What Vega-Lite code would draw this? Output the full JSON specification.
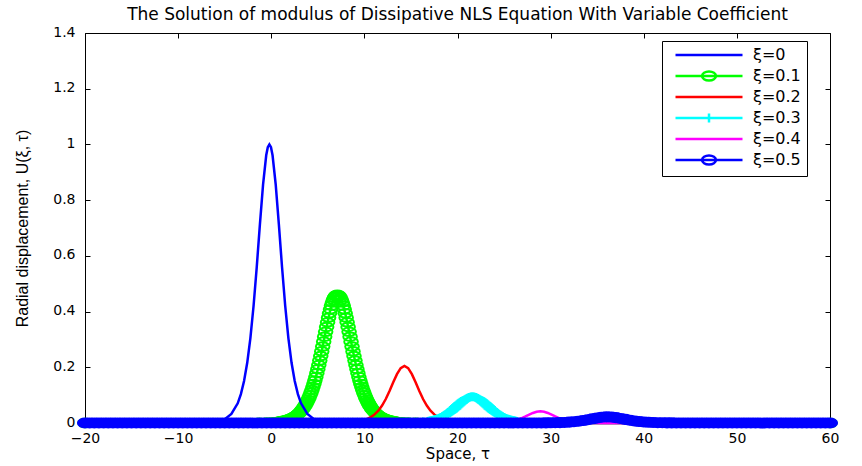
{
"$schema": "https://vega.github.io/schema/vega-lite/v6.json",
"width": 745, "height": 390,
"autosize": {"type": "none"},
"padding": {"left": 85, "top": 33, "right": 32, "bottom": 43},
"background": "white",
"title": {"text": "The Solution of modulus of Dissipative NLS Equation With Variable Coefficient", "font": "DejaVu Sans", "fontSize": 17, "fontWeight": "normal", "color": "black", "anchor": "middle", "offset": 1},
"config": {"view": {"stroke": "black", "strokeWidth": 1}, "axis": {"grid": false, "domain": false, "tickColor": "black", "labelColor": "black", "titleColor": "black", "labelFont": "DejaVu Sans", "labelFontSize": 14, "labelFlush": false, "labelOverlap": false}},
"data": {"values": [
{"s":"ξ=0","x":-20,"y":0},{"s":"ξ=0","x":-7.85,"y":0.0005},{"s":"ξ=0","x":-7,"y":0.0013},{"s":"ξ=0","x":-5.81,"y":0.0054},{"s":"ξ=0","x":-4.96,"y":0.0147},{"s":"ξ=0","x":-4.28,"y":0.0324},{"s":"ξ=0","x":-3.6,"y":0.0707},{"s":"ξ=0","x":-3.26,"y":0.1036},{"s":"ξ=0","x":-2.92,"y":0.1505},{"s":"ξ=0","x":-2.58,"y":0.216},{"s":"ξ=0","x":-2.24,"y":0.305},{"s":"ξ=0","x":-1.9,"y":0.42},{"s":"ξ=0","x":-1.56,"y":0.559},{"s":"ξ=0","x":-1.22,"y":0.712},{"s":"ξ=0","x":-0.88,"y":0.856},{"s":"ξ=0","x":-0.54,"y":0.961},{"s":"ξ=0","x":-0.37,"y":0.99},{"s":"ξ=0","x":-0.2,"y":1.0},{"s":"ξ=0","x":-0.03,"y":0.99},{"s":"ξ=0","x":0.14,"y":0.961},{"s":"ξ=0","x":0.48,"y":0.856},{"s":"ξ=0","x":0.82,"y":0.712},{"s":"ξ=0","x":1.16,"y":0.559},{"s":"ξ=0","x":1.5,"y":0.42},{"s":"ξ=0","x":1.84,"y":0.305},{"s":"ξ=0","x":2.18,"y":0.216},{"s":"ξ=0","x":2.52,"y":0.1505},{"s":"ξ=0","x":2.86,"y":0.1036},{"s":"ξ=0","x":3.2,"y":0.0707},{"s":"ξ=0","x":3.88,"y":0.0324},{"s":"ξ=0","x":4.56,"y":0.0147},{"s":"ξ=0","x":5.41,"y":0.0054},{"s":"ξ=0","x":6.6,"y":0.0013},{"s":"ξ=0","x":7.45,"y":0.0005},{"s":"ξ=0","x":60,"y":0},

{"s":"ξ=0.1","x":-20,"y":0},{"s":"ξ=0.1","x":-1.3,"y":0.0006},{"s":"ξ=0.1","x":-0.46,"y":0.0014},{"s":"ξ=0.1","x":0.17,"y":0.0025},{"s":"ξ=0.1","x":0.8,"y":0.0045},{"s":"ξ=0.1","x":1.01,"y":0.0055},{"s":"ξ=0.1","x":1.22,"y":0.0068},{"s":"ξ=0.1","x":1.43,"y":0.0082},{"s":"ξ=0.1","x":1.64,"y":0.01},{"s":"ξ=0.1","x":1.85,"y":0.0122},{"s":"ξ=0.1","x":2.06,"y":0.0149},{"s":"ξ=0.1","x":2.27,"y":0.0181},{"s":"ξ=0.1","x":2.48,"y":0.022},{"s":"ξ=0.1","x":2.69,"y":0.0268},{"s":"ξ=0.1","x":2.9,"y":0.0325},{"s":"ξ=0.1","x":3.11,"y":0.0394},{"s":"ξ=0.1","x":3.32,"y":0.0477},{"s":"ξ=0.1","x":3.53,"y":0.0575},{"s":"ξ=0.1","x":3.74,"y":0.0692},{"s":"ξ=0.1","x":3.95,"y":0.0833},{"s":"ξ=0.1","x":4.16,"y":0.0994},{"s":"ξ=0.1","x":4.37,"y":0.1182},{"s":"ξ=0.1","x":4.58,"y":0.1403},{"s":"ξ=0.1","x":4.79,"y":0.1651},{"s":"ξ=0.1","x":5.0,"y":0.1932},{"s":"ξ=0.1","x":5.21,"y":0.224},{"s":"ξ=0.1","x":5.42,"y":0.2571},{"s":"ξ=0.1","x":5.63,"y":0.2921},{"s":"ξ=0.1","x":5.84,"y":0.3275},{"s":"ξ=0.1","x":6.05,"y":0.3616},{"s":"ξ=0.1","x":6.26,"y":0.3938},{"s":"ξ=0.1","x":6.47,"y":0.4209},{"s":"ξ=0.1","x":6.68,"y":0.4421},{"s":"ξ=0.1","x":6.89,"y":0.4554},{"s":"ξ=0.1","x":7.1,"y":0.46},{"s":"ξ=0.1","x":7.31,"y":0.4554},{"s":"ξ=0.1","x":7.52,"y":0.4421},{"s":"ξ=0.1","x":7.73,"y":0.4209},{"s":"ξ=0.1","x":7.94,"y":0.3938},{"s":"ξ=0.1","x":8.15,"y":0.3616},{"s":"ξ=0.1","x":8.36,"y":0.3275},{"s":"ξ=0.1","x":8.57,"y":0.2921},{"s":"ξ=0.1","x":8.78,"y":0.2571},{"s":"ξ=0.1","x":8.99,"y":0.224},{"s":"ξ=0.1","x":9.2,"y":0.1932},{"s":"ξ=0.1","x":9.41,"y":0.1651},{"s":"ξ=0.1","x":9.62,"y":0.1403},{"s":"ξ=0.1","x":9.83,"y":0.1182},{"s":"ξ=0.1","x":10.04,"y":0.0994},{"s":"ξ=0.1","x":10.25,"y":0.0833},{"s":"ξ=0.1","x":10.46,"y":0.0692},{"s":"ξ=0.1","x":10.67,"y":0.0575},{"s":"ξ=0.1","x":10.88,"y":0.0477},{"s":"ξ=0.1","x":11.09,"y":0.0394},{"s":"ξ=0.1","x":11.3,"y":0.0325},{"s":"ξ=0.1","x":11.51,"y":0.0268},{"s":"ξ=0.1","x":11.72,"y":0.022},{"s":"ξ=0.1","x":11.93,"y":0.0181},{"s":"ξ=0.1","x":12.14,"y":0.0149},{"s":"ξ=0.1","x":12.35,"y":0.0122},{"s":"ξ=0.1","x":12.56,"y":0.01},{"s":"ξ=0.1","x":12.77,"y":0.0082},{"s":"ξ=0.1","x":12.98,"y":0.0068},{"s":"ξ=0.1","x":13.19,"y":0.0055},{"s":"ξ=0.1","x":13.4,"y":0.0045},{"s":"ξ=0.1","x":14.03,"y":0.0025},{"s":"ξ=0.1","x":14.66,"y":0.0014},{"s":"ξ=0.1","x":15.5,"y":0.0006},{"s":"ξ=0.1","x":60,"y":0},
{"s":"ξ=0.1","x":0.905,"y":0.0052},{"s":"ξ=0.1","x":1.115,"y":0.0063},{"s":"ξ=0.1","x":1.325,"y":0.0076},{"s":"ξ=0.1","x":1.535,"y":0.0092},{"s":"ξ=0.1","x":1.745,"y":0.0112},{"s":"ξ=0.1","x":1.955,"y":0.0136},{"s":"ξ=0.1","x":2.165,"y":0.0166},{"s":"ξ=0.1","x":2.375,"y":0.0201},{"s":"ξ=0.1","x":2.585,"y":0.0244},{"s":"ξ=0.1","x":2.795,"y":0.0296},{"s":"ξ=0.1","x":3.005,"y":0.0358},{"s":"ξ=0.1","x":3.215,"y":0.0433},{"s":"ξ=0.1","x":3.425,"y":0.0523},{"s":"ξ=0.1","x":3.635,"y":0.0631},{"s":"ξ=0.1","x":3.845,"y":0.0759},{"s":"ξ=0.1","x":4.055,"y":0.0909},{"s":"ξ=0.1","x":4.265,"y":0.1086},{"s":"ξ=0.1","x":4.475,"y":0.129},{"s":"ξ=0.1","x":4.685,"y":0.1524},{"s":"ξ=0.1","x":4.895,"y":0.1788},{"s":"ξ=0.1","x":5.105,"y":0.2082},{"s":"ξ=0.1","x":5.315,"y":0.2403},{"s":"ξ=0.1","x":5.525,"y":0.2744},{"s":"ξ=0.1","x":5.735,"y":0.3097},{"s":"ξ=0.1","x":5.945,"y":0.3448},{"s":"ξ=0.1","x":6.155,"y":0.3781},{"s":"ξ=0.1","x":6.365,"y":0.408},{"s":"ξ=0.1","x":6.575,"y":0.4324},{"s":"ξ=0.1","x":6.785,"y":0.4498},{"s":"ξ=0.1","x":6.995,"y":0.4589},
{"s":"ξ=0.1","x":7.205,"y":0.4589},{"s":"ξ=0.1","x":7.415,"y":0.4498},{"s":"ξ=0.1","x":7.625,"y":0.4324},{"s":"ξ=0.1","x":7.835,"y":0.408},{"s":"ξ=0.1","x":8.045,"y":0.3781},{"s":"ξ=0.1","x":8.255,"y":0.3448},{"s":"ξ=0.1","x":8.465,"y":0.3097},{"s":"ξ=0.1","x":8.675,"y":0.2744},{"s":"ξ=0.1","x":8.885,"y":0.2403},{"s":"ξ=0.1","x":9.095,"y":0.2082},{"s":"ξ=0.1","x":9.305,"y":0.1788},{"s":"ξ=0.1","x":9.515,"y":0.1524},{"s":"ξ=0.1","x":9.725,"y":0.129},{"s":"ξ=0.1","x":9.935,"y":0.1086},{"s":"ξ=0.1","x":10.145,"y":0.0909},{"s":"ξ=0.1","x":10.355,"y":0.0759},{"s":"ξ=0.1","x":10.565,"y":0.0631},{"s":"ξ=0.1","x":10.775,"y":0.0523},{"s":"ξ=0.1","x":10.985,"y":0.0433},{"s":"ξ=0.1","x":11.195,"y":0.0358},{"s":"ξ=0.1","x":11.405,"y":0.0296},{"s":"ξ=0.1","x":11.615,"y":0.0244},{"s":"ξ=0.1","x":11.825,"y":0.0201},{"s":"ξ=0.1","x":12.035,"y":0.0166},{"s":"ξ=0.1","x":12.245,"y":0.0136},{"s":"ξ=0.1","x":12.455,"y":0.0112},{"s":"ξ=0.1","x":12.665,"y":0.0092},{"s":"ξ=0.1","x":12.875,"y":0.0076},{"s":"ξ=0.1","x":13.085,"y":0.0063},{"s":"ξ=0.1","x":13.295,"y":0.0052},

{"s":"ξ=0.2","x":-20,"y":0},{"s":"ξ=0.2","x":6.3,"y":0.0003},{"s":"ξ=0.2","x":7.7,"y":0.0011},{"s":"ξ=0.2","x":8.7,"y":0.003},{"s":"ξ=0.2","x":9.5,"y":0.0066},{"s":"ξ=0.2","x":10.3,"y":0.0145},{"s":"ξ=0.2","x":10.7,"y":0.0212},{"s":"ξ=0.2","x":11.1,"y":0.0309},{"s":"ξ=0.2","x":11.5,"y":0.0443},{"s":"ξ=0.2","x":11.9,"y":0.0625},{"s":"ξ=0.2","x":12.3,"y":0.0861},{"s":"ξ=0.2","x":12.7,"y":0.1146},{"s":"ξ=0.2","x":13.1,"y":0.146},{"s":"ξ=0.2","x":13.5,"y":0.1755},{"s":"ξ=0.2","x":13.9,"y":0.197},{"s":"ξ=0.2","x":14.3,"y":0.205},{"s":"ξ=0.2","x":14.7,"y":0.197},{"s":"ξ=0.2","x":15.1,"y":0.1755},{"s":"ξ=0.2","x":15.5,"y":0.146},{"s":"ξ=0.2","x":15.9,"y":0.1146},{"s":"ξ=0.2","x":16.3,"y":0.0861},{"s":"ξ=0.2","x":16.7,"y":0.0625},{"s":"ξ=0.2","x":17.1,"y":0.0443},{"s":"ξ=0.2","x":17.5,"y":0.0309},{"s":"ξ=0.2","x":17.9,"y":0.0212},{"s":"ξ=0.2","x":18.3,"y":0.0145},{"s":"ξ=0.2","x":19.1,"y":0.0066},{"s":"ξ=0.2","x":19.9,"y":0.003},{"s":"ξ=0.2","x":20.9,"y":0.0011},{"s":"ξ=0.2","x":22.3,"y":0.0003},{"s":"ξ=0.2","x":60,"y":0},

{"s":"ξ=0.3","x":-20,"y":0},{"s":"ξ=0.3","x":14.4,"y":0.0009},{"s":"ξ=0.3","x":14.88,"y":0.0014},{"s":"ξ=0.3","x":15.36,"y":0.002},{"s":"ξ=0.3","x":15.84,"y":0.003},{"s":"ξ=0.3","x":16.32,"y":0.0045},{"s":"ξ=0.3","x":16.8,"y":0.0066},{"s":"ξ=0.3","x":17.04,"y":0.008},{"s":"ξ=0.3","x":17.28,"y":0.0097},{"s":"ξ=0.3","x":17.52,"y":0.0118},{"s":"ξ=0.3","x":17.76,"y":0.0141},{"s":"ξ=0.3","x":18.0,"y":0.017},{"s":"ξ=0.3","x":18.24,"y":0.0203},{"s":"ξ=0.3","x":18.48,"y":0.0242},{"s":"ξ=0.3","x":18.72,"y":0.0287},{"s":"ξ=0.3","x":18.96,"y":0.0337},{"s":"ξ=0.3","x":19.2,"y":0.0395},{"s":"ξ=0.3","x":19.44,"y":0.0458},{"s":"ξ=0.3","x":19.68,"y":0.0525},{"s":"ξ=0.3","x":19.92,"y":0.0597},{"s":"ξ=0.3","x":20.16,"y":0.0669},{"s":"ξ=0.3","x":20.4,"y":0.0739},{"s":"ξ=0.3","x":20.64,"y":0.0805},{"s":"ξ=0.3","x":20.88,"y":0.086},{"s":"ξ=0.3","x":21.12,"y":0.0903},{"s":"ξ=0.3","x":21.36,"y":0.0931},{"s":"ξ=0.3","x":21.6,"y":0.094},{"s":"ξ=0.3","x":21.84,"y":0.0931},{"s":"ξ=0.3","x":22.08,"y":0.0903},{"s":"ξ=0.3","x":22.32,"y":0.086},{"s":"ξ=0.3","x":22.56,"y":0.0805},{"s":"ξ=0.3","x":22.8,"y":0.0739},{"s":"ξ=0.3","x":23.04,"y":0.0669},{"s":"ξ=0.3","x":23.28,"y":0.0597},{"s":"ξ=0.3","x":23.52,"y":0.0525},{"s":"ξ=0.3","x":23.76,"y":0.0458},{"s":"ξ=0.3","x":24.0,"y":0.0395},{"s":"ξ=0.3","x":24.24,"y":0.0337},{"s":"ξ=0.3","x":24.48,"y":0.0287},{"s":"ξ=0.3","x":24.72,"y":0.0242},{"s":"ξ=0.3","x":24.96,"y":0.0203},{"s":"ξ=0.3","x":25.2,"y":0.017},{"s":"ξ=0.3","x":25.44,"y":0.0141},{"s":"ξ=0.3","x":25.68,"y":0.0118},{"s":"ξ=0.3","x":25.92,"y":0.0097},{"s":"ξ=0.3","x":26.16,"y":0.008},{"s":"ξ=0.3","x":26.4,"y":0.0066},{"s":"ξ=0.3","x":26.88,"y":0.0045},{"s":"ξ=0.3","x":27.36,"y":0.003},{"s":"ξ=0.3","x":27.84,"y":0.002},{"s":"ξ=0.3","x":28.32,"y":0.0014},{"s":"ξ=0.3","x":28.8,"y":0.0009},{"s":"ξ=0.3","x":60,"y":0},
{"s":"ξ=0.3","x":16.92,"y":0.0073},{"s":"ξ=0.3","x":17.16,"y":0.0089},{"s":"ξ=0.3","x":17.4,"y":0.0107},{"s":"ξ=0.3","x":17.64,"y":0.0129},{"s":"ξ=0.3","x":17.88,"y":0.0155},{"s":"ξ=0.3","x":18.12,"y":0.0186},{"s":"ξ=0.3","x":18.36,"y":0.0222},{"s":"ξ=0.3","x":18.6,"y":0.0264},{"s":"ξ=0.3","x":18.84,"y":0.0311},{"s":"ξ=0.3","x":19.08,"y":0.0365},{"s":"ξ=0.3","x":19.32,"y":0.0426},{"s":"ξ=0.3","x":19.56,"y":0.0491},{"s":"ξ=0.3","x":19.8,"y":0.0561},{"s":"ξ=0.3","x":20.04,"y":0.0633},{"s":"ξ=0.3","x":20.28,"y":0.0705},{"s":"ξ=0.3","x":20.52,"y":0.0773},{"s":"ξ=0.3","x":20.76,"y":0.0834},{"s":"ξ=0.3","x":21.0,"y":0.0884},{"s":"ξ=0.3","x":21.24,"y":0.0919},{"s":"ξ=0.3","x":21.48,"y":0.0938},
{"s":"ξ=0.3","x":21.72,"y":0.0938},{"s":"ξ=0.3","x":21.96,"y":0.0919},{"s":"ξ=0.3","x":22.2,"y":0.0884},{"s":"ξ=0.3","x":22.44,"y":0.0834},{"s":"ξ=0.3","x":22.68,"y":0.0773},{"s":"ξ=0.3","x":22.92,"y":0.0705},{"s":"ξ=0.3","x":23.16,"y":0.0633},{"s":"ξ=0.3","x":23.4,"y":0.0561},{"s":"ξ=0.3","x":23.64,"y":0.0491},{"s":"ξ=0.3","x":23.88,"y":0.0426},{"s":"ξ=0.3","x":24.12,"y":0.0365},{"s":"ξ=0.3","x":24.36,"y":0.0311},{"s":"ξ=0.3","x":24.6,"y":0.0264},{"s":"ξ=0.3","x":24.84,"y":0.0222},{"s":"ξ=0.3","x":25.08,"y":0.0186},{"s":"ξ=0.3","x":25.32,"y":0.0155},{"s":"ξ=0.3","x":25.56,"y":0.0129},{"s":"ξ=0.3","x":25.8,"y":0.0107},{"s":"ξ=0.3","x":26.04,"y":0.0089},{"s":"ξ=0.3","x":26.28,"y":0.0073},

{"s":"ξ=0.4","x":-20,"y":0},{"s":"ξ=0.4","x":22.3,"y":0.0002},{"s":"ξ=0.4","x":23.3,"y":0.0006},{"s":"ξ=0.4","x":24.1,"y":0.0014},{"s":"ξ=0.4","x":24.9,"y":0.003},{"s":"ξ=0.4","x":25.3,"y":0.0044},{"s":"ξ=0.4","x":25.7,"y":0.0063},{"s":"ξ=0.4","x":26.1,"y":0.0091},{"s":"ξ=0.4","x":26.5,"y":0.0128},{"s":"ξ=0.4","x":26.9,"y":0.0176},{"s":"ξ=0.4","x":27.3,"y":0.0235},{"s":"ξ=0.4","x":27.7,"y":0.0299},{"s":"ξ=0.4","x":28.1,"y":0.036},{"s":"ξ=0.4","x":28.5,"y":0.0404},{"s":"ξ=0.4","x":28.9,"y":0.042},{"s":"ξ=0.4","x":29.3,"y":0.0404},{"s":"ξ=0.4","x":29.7,"y":0.036},{"s":"ξ=0.4","x":30.1,"y":0.0299},{"s":"ξ=0.4","x":30.5,"y":0.0235},{"s":"ξ=0.4","x":30.9,"y":0.0176},{"s":"ξ=0.4","x":31.3,"y":0.0128},{"s":"ξ=0.4","x":31.7,"y":0.0091},{"s":"ξ=0.4","x":32.1,"y":0.0063},{"s":"ξ=0.4","x":32.5,"y":0.0044},{"s":"ξ=0.4","x":32.9,"y":0.003},{"s":"ξ=0.4","x":33.7,"y":0.0014},{"s":"ξ=0.4","x":34.5,"y":0.0006},{"s":"ξ=0.4","x":35.5,"y":0.0002},{"s":"ξ=0.4","x":60,"y":0},

{"s":"ξ=0.5","x":-20,"y":0},{"s":"ξ=0.5","x":-19.5,"y":0},{"s":"ξ=0.5","x":-19,"y":0},{"s":"ξ=0.5","x":-18.5,"y":0},{"s":"ξ=0.5","x":-18,"y":0},{"s":"ξ=0.5","x":-17.5,"y":0},{"s":"ξ=0.5","x":-17,"y":0},{"s":"ξ=0.5","x":-16.5,"y":0},{"s":"ξ=0.5","x":-16,"y":0},{"s":"ξ=0.5","x":-15.5,"y":0},{"s":"ξ=0.5","x":-15,"y":0},{"s":"ξ=0.5","x":-14.5,"y":0},{"s":"ξ=0.5","x":-14,"y":0},{"s":"ξ=0.5","x":-13.5,"y":0},{"s":"ξ=0.5","x":-13,"y":0},{"s":"ξ=0.5","x":-12.5,"y":0},{"s":"ξ=0.5","x":-12,"y":0},{"s":"ξ=0.5","x":-11.5,"y":0},{"s":"ξ=0.5","x":-11,"y":0},{"s":"ξ=0.5","x":-10.5,"y":0},{"s":"ξ=0.5","x":-10,"y":0},{"s":"ξ=0.5","x":-9.5,"y":0},{"s":"ξ=0.5","x":-9,"y":0},{"s":"ξ=0.5","x":-8.5,"y":0},{"s":"ξ=0.5","x":-8,"y":0},{"s":"ξ=0.5","x":-7.5,"y":0},{"s":"ξ=0.5","x":-7,"y":0},{"s":"ξ=0.5","x":-6.5,"y":0},{"s":"ξ=0.5","x":-6,"y":0},{"s":"ξ=0.5","x":-5.5,"y":0},{"s":"ξ=0.5","x":-5,"y":0},{"s":"ξ=0.5","x":-4.5,"y":0},{"s":"ξ=0.5","x":-4,"y":0},{"s":"ξ=0.5","x":-3.5,"y":0},{"s":"ξ=0.5","x":-3,"y":0},{"s":"ξ=0.5","x":-2.5,"y":0},{"s":"ξ=0.5","x":-2,"y":0},{"s":"ξ=0.5","x":-1.5,"y":0},{"s":"ξ=0.5","x":-1,"y":0},{"s":"ξ=0.5","x":-0.5,"y":0},{"s":"ξ=0.5","x":0,"y":0},{"s":"ξ=0.5","x":0.5,"y":0},{"s":"ξ=0.5","x":1,"y":0},{"s":"ξ=0.5","x":1.5,"y":0},{"s":"ξ=0.5","x":2,"y":0},{"s":"ξ=0.5","x":2.5,"y":0},{"s":"ξ=0.5","x":3,"y":0},{"s":"ξ=0.5","x":3.5,"y":0},{"s":"ξ=0.5","x":4,"y":0},{"s":"ξ=0.5","x":4.5,"y":0},{"s":"ξ=0.5","x":5,"y":0},{"s":"ξ=0.5","x":5.5,"y":0},{"s":"ξ=0.5","x":6,"y":0},{"s":"ξ=0.5","x":6.5,"y":0},{"s":"ξ=0.5","x":7,"y":0},{"s":"ξ=0.5","x":7.5,"y":0},{"s":"ξ=0.5","x":8,"y":0},{"s":"ξ=0.5","x":8.5,"y":0},{"s":"ξ=0.5","x":9,"y":0},{"s":"ξ=0.5","x":9.5,"y":0},{"s":"ξ=0.5","x":10,"y":0},{"s":"ξ=0.5","x":10.5,"y":0},{"s":"ξ=0.5","x":11,"y":0},{"s":"ξ=0.5","x":11.5,"y":0},{"s":"ξ=0.5","x":12,"y":0},{"s":"ξ=0.5","x":12.5,"y":0},{"s":"ξ=0.5","x":13,"y":0},{"s":"ξ=0.5","x":13.5,"y":0},{"s":"ξ=0.5","x":14,"y":0},{"s":"ξ=0.5","x":14.5,"y":0},{"s":"ξ=0.5","x":15,"y":0},{"s":"ξ=0.5","x":15.5,"y":0},{"s":"ξ=0.5","x":16,"y":0},{"s":"ξ=0.5","x":16.5,"y":0},{"s":"ξ=0.5","x":17,"y":0},{"s":"ξ=0.5","x":17.5,"y":0},{"s":"ξ=0.5","x":18,"y":0},{"s":"ξ=0.5","x":18.5,"y":0},{"s":"ξ=0.5","x":19,"y":0},{"s":"ξ=0.5","x":19.5,"y":0},{"s":"ξ=0.5","x":20,"y":0},{"s":"ξ=0.5","x":20.5,"y":0},{"s":"ξ=0.5","x":21,"y":0},{"s":"ξ=0.5","x":21.5,"y":0},{"s":"ξ=0.5","x":22,"y":0},{"s":"ξ=0.5","x":22.5,"y":0},{"s":"ξ=0.5","x":23,"y":0},{"s":"ξ=0.5","x":23.5,"y":0},{"s":"ξ=0.5","x":24,"y":0},{"s":"ξ=0.5","x":24.5,"y":0},{"s":"ξ=0.5","x":25,"y":0},{"s":"ξ=0.5","x":25.5,"y":0},{"s":"ξ=0.5","x":26,"y":0},{"s":"ξ=0.5","x":26.5,"y":0},{"s":"ξ=0.5","x":27,"y":0},{"s":"ξ=0.5","x":27.5,"y":0},{"s":"ξ=0.5","x":28,"y":0.0001},{"s":"ξ=0.5","x":28.5,"y":0.0002},{"s":"ξ=0.5","x":29,"y":0.0003},{"s":"ξ=0.5","x":29.5,"y":0.0004},{"s":"ξ=0.5","x":30,"y":0.0007},{"s":"ξ=0.5","x":30.5,"y":0.001},{"s":"ξ=0.5","x":31,"y":0.0014},{"s":"ξ=0.5","x":31.5,"y":0.0021},{"s":"ξ=0.5","x":32,"y":0.0031},{"s":"ξ=0.5","x":32.5,"y":0.0044},{"s":"ξ=0.5","x":33,"y":0.0063},{"s":"ξ=0.5","x":33.5,"y":0.0087},{"s":"ξ=0.5","x":34,"y":0.0117},{"s":"ξ=0.5","x":34.5,"y":0.015},{"s":"ξ=0.5","x":35,"y":0.0182},{"s":"ξ=0.5","x":35.5,"y":0.0208},{"s":"ξ=0.5","x":36,"y":0.022},{"s":"ξ=0.5","x":36.5,"y":0.0214},{"s":"ξ=0.5","x":37,"y":0.0194},{"s":"ξ=0.5","x":37.5,"y":0.0163},{"s":"ξ=0.5","x":38,"y":0.013},{"s":"ξ=0.5","x":38.5,"y":0.0098},{"s":"ξ=0.5","x":39,"y":0.0072},{"s":"ξ=0.5","x":39.5,"y":0.0051},{"s":"ξ=0.5","x":40,"y":0.0036},{"s":"ξ=0.5","x":40.5,"y":0.0025},{"s":"ξ=0.5","x":41,"y":0.0017},{"s":"ξ=0.5","x":41.5,"y":0.0011},{"s":"ξ=0.5","x":42,"y":0.0008},{"s":"ξ=0.5","x":42.5,"y":0.0005},{"s":"ξ=0.5","x":43,"y":0.0004},{"s":"ξ=0.5","x":43.5,"y":0.0002},{"s":"ξ=0.5","x":44,"y":0.0002},{"s":"ξ=0.5","x":44.5,"y":0},{"s":"ξ=0.5","x":45,"y":0},{"s":"ξ=0.5","x":45.5,"y":0},{"s":"ξ=0.5","x":46,"y":0},{"s":"ξ=0.5","x":46.5,"y":0},{"s":"ξ=0.5","x":47,"y":0},{"s":"ξ=0.5","x":47.5,"y":0},{"s":"ξ=0.5","x":48,"y":0},{"s":"ξ=0.5","x":48.5,"y":0},{"s":"ξ=0.5","x":49,"y":0},{"s":"ξ=0.5","x":49.5,"y":0},{"s":"ξ=0.5","x":50,"y":0},{"s":"ξ=0.5","x":50.5,"y":0},{"s":"ξ=0.5","x":51,"y":0},{"s":"ξ=0.5","x":51.5,"y":0},{"s":"ξ=0.5","x":52,"y":0},{"s":"ξ=0.5","x":52.5,"y":0},{"s":"ξ=0.5","x":53,"y":0},{"s":"ξ=0.5","x":53.5,"y":0},{"s":"ξ=0.5","x":54,"y":0},{"s":"ξ=0.5","x":54.5,"y":0},{"s":"ξ=0.5","x":55,"y":0},{"s":"ξ=0.5","x":55.5,"y":0},{"s":"ξ=0.5","x":56,"y":0},{"s":"ξ=0.5","x":56.5,"y":0},{"s":"ξ=0.5","x":57,"y":0},{"s":"ξ=0.5","x":57.5,"y":0},{"s":"ξ=0.5","x":58,"y":0},{"s":"ξ=0.5","x":58.5,"y":0},{"s":"ξ=0.5","x":59,"y":0},{"s":"ξ=0.5","x":59.5,"y":0},{"s":"ξ=0.5","x":60,"y":0}
]},
"encoding": {
 "x": {"field": "x", "type": "quantitative", "scale": {"domain": [-20, 60], "nice": false, "zero": false}, "axis": null},
 "y": {"field": "y", "type": "quantitative", "scale": {"domain": [0, 1.4], "nice": false, "zero": false}, "axis": null},
 "color": {"field": "s", "type": "nominal",
   "scale": {"domain": ["ξ=0","ξ=0.1","ξ=0.2","ξ=0.3","ξ=0.4","ξ=0.5"], "range": ["#0000ff","#00ff00","#ff0000","#00ffff","#ff00ff","#0000ff"]},
   "legend": {"title": null, "orient": "none", "legendX": 577, "legendY": 8, "padding": 6, "strokeColor": "black", "fillColor": "white",
     "symbolType": "M-6.7,0H6.7", "symbolSize": 100, "symbolStrokeWidth": 2.5, "symbolOffset": 33, "labelOffset": 36, "rowPadding": 3,
     "labelFont": "DejaVu Sans", "labelFontSize": 16, "labelColor": "black",
     "encode": {"symbols": {"update": {
        "shape": {"signal": "(datum.value === 'ξ=0.1' || datum.value === 'ξ=0.5') ? 'M-6.7,0H6.7M-1.4,0A1.4,0.9 0 1,1 1.4,0A1.4,0.9 0 1,1 -1.4,0Z' : (datum.value === 'ξ=0.3' ? 'M-6.7,0H6.7M0,-0.9V0.9' : 'M-6.7,0H6.7')"},
        "fill": {"value": "transparent"},
        "fillOpacity": {"value": 0},
        "stroke": {"scale": "color", "field": "value"},
        "strokeWidth": {"value": 2.5},
        "opacity": {"value": 1}
     }}}}
 }
},
"resolve": {"axis": {"x": "independent", "y": "independent"}},
"layer": [
 {"transform": [{"filter": "datum.s === 'ξ=0.1'"}], "mark": {"type": "line", "strokeWidth": 2.5},
  "encoding": {
   "x": {"field": "x", "type": "quantitative", "scale": {"domain": [-20, 60], "nice": false, "zero": false},
     "axis": {"orient": "bottom", "values": [-20,-10,0,10,20,30,40,50,60], "format": "d", "ticks": false, "labelPadding": 8,
       "title": "Space, τ", "titleFont": "DejaVu Sans", "titleFontSize": 15, "titleFontWeight": "normal", "titlePadding": 1}},
   "y": {"field": "y", "type": "quantitative", "scale": {"domain": [0, 1.4], "nice": false, "zero": false},
     "axis": {"orient": "left", "values": [0,0.2,0.4,0.6,0.8,1,1.2,1.4], "format": "~g", "tickSize": -5, "labelPadding": 15, "labelOffset": -1,
       "title": "Radial displacement, U(ξ, τ)", "titleFont": "Liberation Sans", "titleFontSize": 16, "titleFontWeight": "normal", "titlePadding": 22}}
  }},
 {"transform": [{"filter": "datum.s === 'ξ=0.1'"}], "mark": {"type": "point", "shape": "M-1,0A1,0.63 0 1,1 1,0A1,0.63 0 1,1 -1,0Z", "size": 185, "filled": false, "strokeWidth": 2, "opacity": 1}},
 {"transform": [{"filter": "datum.s === 'ξ=0'"}], "mark": {"type": "line", "strokeWidth": 2.5}},
 {"transform": [{"filter": "datum.s === 'ξ=0.2'"}], "mark": {"type": "line", "strokeWidth": 2.5}},
 {"transform": [{"filter": "datum.s === 'ξ=0.3'"}], "mark": {"type": "line", "strokeWidth": 2.5}},
 {"transform": [{"filter": "datum.s === 'ξ=0.3'"}], "mark": {"type": "point", "shape": "M-1,0H1M0,-0.63V0.63", "size": 185, "filled": false, "strokeWidth": 2.5, "opacity": 1}},
 {"transform": [{"filter": "datum.s === 'ξ=0.4'"}], "mark": {"type": "line", "strokeWidth": 2.5}},
 {"transform": [{"filter": "datum.s === 'ξ=0.5'"}], "mark": {"type": "line", "strokeWidth": 2.5},
  "encoding": {
   "x": {"field": "x", "type": "quantitative", "scale": {"domain": [-20, 60], "nice": false, "zero": false},
     "axis": {"orient": "top", "values": [-20,-10,0,10,20,30,40,50,60], "labels": false, "tickSize": -5, "title": null}},
   "y": {"field": "y", "type": "quantitative", "scale": {"domain": [0, 1.4], "nice": false, "zero": false},
     "axis": {"orient": "right", "values": [0,0.2,0.4,0.6,0.8,1,1.2,1.4], "labels": false, "tickSize": -5, "title": null}}
  }},
 {"transform": [{"filter": "datum.s === 'ξ=0.5'"}], "mark": {"type": "point", "shape": "M-1,0A1,0.63 0 1,1 1,0A1,0.63 0 1,1 -1,0Z", "size": 185, "filled": true, "stroke": "#0000ff", "strokeWidth": 2.5, "opacity": 1}}
]
}
